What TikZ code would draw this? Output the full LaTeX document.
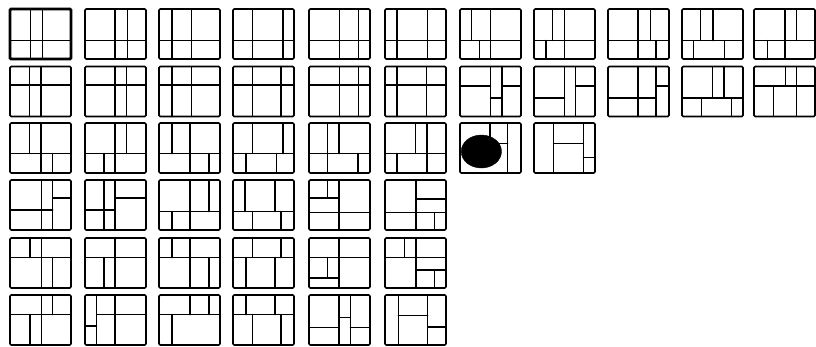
\documentclass[tikz,border=0pt]{standalone}
\usepackage{tikz}
\tikzset{
    wall/.style = {line width=1.5pt, line cap=round},
    planframe/.style = {line width=1.6pt, rounded corners=1.2pt},
    blob/.style = {fill=black, draw=black}
}
% one plan: left, top (picture pt), walls in unit coordinates
\newcommand{\plan}[3]{%
  \begin{scope}[shift={(#1pt,-#2pt)}, yshift=-50pt, x=61pt, y=50pt]
    #3
    \draw[planframe] (0,0) rectangle (1,1);
  \end{scope}}
\newcommand{\vwall}[3]{\draw[wall] (#1,#2) -- (#1,#3);}
\newcommand{\hwall}[3]{\draw[wall] (#2,#1) -- (#3,#1);}

\begin{document}
\begin{tikzpicture}[x=1pt, y=1pt]
    \useasboundingbox (0,0) rectangle (816,-346);

    % Row 1
    \plan{10}{9}{\draw[planframe, line width=2.8pt] (0,0) rectangle (1,1); \hwall{0.37}{0}{1}\vwall{0.34}{0}{1}\vwall{0.53}{0}{1}}
    \plan{85}{9}{\hwall{0.37}{0}{1}\vwall{0.49}{0}{1}\vwall{0.70}{0}{1}}
    \plan{159}{9}{\hwall{0.37}{0}{1}\vwall{0.21}{0}{1}\vwall{0.53}{0}{1}}
    \plan{233}{9}{\hwall{0.37}{0}{1}\vwall{0.32}{0}{1}\vwall{0.82}{0}{1}}
    \plan{309}{9}{\hwall{0.37}{0}{1}\vwall{0.50}{0}{1}\vwall{0.81}{0}{1}}
    \plan{385}{9}{\hwall{0.37}{0}{1}\vwall{0.20}{0}{1}\vwall{0.70}{0}{1}}
    \plan{460}{9}{\hwall{0.37}{0}{1}\vwall{0.50}{0}{1}\vwall{0.19}{0.37}{1}\vwall{0.32}{0}{0.37}}
    \plan{534}{9}{\hwall{0.37}{0}{1}\vwall{0.50}{0}{1}\vwall{0.30}{0.37}{1}\vwall{0.20}{0}{0.37}}
    \plan{608}{9}{\hwall{0.37}{0}{1}\vwall{0.49}{0}{1}\vwall{0.70}{0.37}{1}\vwall{0.79}{0}{0.37}}
    \plan{682}{9}{\hwall{0.37}{0}{1}\vwall{0.30}{0.37}{1}\vwall{0.51}{0.37}{1}\vwall{0.19}{0}{0.37}\vwall{0.70}{0}{0.37}}
    \plan{754}{9}{\hwall{0.37}{0}{1}\vwall{0.51}{0}{1}\vwall{0.70}{0.37}{1}\vwall{0.22}{0}{0.37}}

    % Row 2
    \plan{10}{66.5}{\hwall{0.63}{0}{1}\vwall{0.32}{0}{1}\vwall{0.51}{0}{1}}
    \plan{85}{66.5}{\hwall{0.63}{0}{1}\vwall{0.49}{0}{1}\vwall{0.68}{0}{1}}
    \plan{159}{66.5}{\hwall{0.63}{0}{1}\vwall{0.21}{0}{1}\vwall{0.53}{0}{1}}
    \plan{233}{66.5}{\hwall{0.63}{0}{1}\vwall{0.32}{0}{1}\vwall{0.79}{0}{1}}
    \plan{309}{66.5}{\hwall{0.63}{0}{1}\vwall{0.50}{0}{1}\vwall{0.81}{0}{1}}
    \plan{385}{66.5}{\hwall{0.63}{0}{1}\vwall{0.20}{0}{1}\vwall{0.68}{0}{1}}
    \plan{460}{66.5}{\vwall{0.50}{0}{1}\vwall{0.69}{0}{1}\hwall{0.61}{0}{0.50}\hwall{0.61}{0.69}{1}\hwall{0.37}{0.50}{0.69}}
    \plan{534}{66.5}{\vwall{0.50}{0}{1}\vwall{0.68}{0}{1}\hwall{0.37}{0}{0.50}\hwall{0.61}{0.68}{1}}
    \plan{608}{66.5}{\vwall{0.49}{0}{1}\vwall{0.79}{0}{1}\hwall{0.37}{0}{0.79}\hwall{0.61}{0.79}{1}}
    \plan{682}{66.5}{\hwall{0.37}{0}{1}\vwall{0.50}{0.37}{1}\vwall{0.69}{0.37}{1}\vwall{0.32}{0}{0.37}\vwall{0.81}{0}{0.37}}
    \plan{754}{66.5}{\hwall{0.61}{0}{1}\vwall{0.70}{0}{1}\vwall{0.52}{0.61}{1}\vwall{0.32}{0}{0.61}}

    % Row 3
    \plan{10}{123}{\hwall{0.39}{0}{1}\vwall{0.51}{0}{1}\vwall{0.32}{0.39}{1}\vwall{0.70}{0}{0.39}}
    \plan{85}{123}{\hwall{0.39}{0}{1}\vwall{0.49}{0}{1}\vwall{0.68}{0.39}{1}\vwall{0.31}{0}{0.39}}
    \plan{159}{123}{\hwall{0.39}{0}{1}\vwall{0.51}{0}{1}\vwall{0.21}{0.39}{1}\vwall{0.82}{0}{0.39}}
    \plan{233}{123}{\hwall{0.39}{0}{1}\vwall{0.32}{0.39}{1}\vwall{0.82}{0.39}{1}\vwall{0.21}{0}{0.39}\vwall{0.71}{0}{0.39}}
    \plan{309}{123}{\hwall{0.39}{0}{1}\vwall{0.30}{0}{1}\vwall{0.49}{0.39}{1}\vwall{0.80}{0}{0.39}}
    \plan{385}{123}{\hwall{0.39}{0}{1}\vwall{0.69}{0}{1}\vwall{0.50}{0.39}{1}\vwall{0.20}{0}{0.39}}
    \plan{460}{123}{\vwall{0.78}{0}{1}\vwall{0.49}{0.59}{1}\hwall{0.59}{0.49}{0.78}\fill[blob] (0.35,0.43) ellipse [x radius=0.33, y radius=0.33];}
    \plan{534}{123}{\vwall{0.32}{0}{1}\vwall{0.81}{0}{1}\hwall{0.59}{0.32}{0.81}\hwall{0.31}{0.81}{1}}

    % Row 4
    \plan{10}{180}{\vwall{0.52}{0}{1}\vwall{0.70}{0}{1}\hwall{0.40}{0}{0.70}\hwall{0.64}{0.70}{1}}
    \plan{85}{180}{\vwall{0.31}{0}{1}\vwall{0.49}{0}{1}\hwall{0.40}{0}{0.49}\hwall{0.64}{0.49}{1}}
    \plan{159}{180}{\hwall{0.37}{0}{1}\vwall{0.51}{0}{1}\vwall{0.82}{0.37}{1}\vwall{0.21}{0}{0.37}}
    \plan{233}{180}{\hwall{0.37}{0}{1}\vwall{0.20}{0.37}{1}\vwall{0.69}{0.37}{1}\vwall{0.32}{0}{0.37}\vwall{0.79}{0}{0.37}}
    \plan{309}{180}{\vwall{0.49}{0}{1}\hwall{0.35}{0}{1}\hwall{0.64}{0}{0.49}\vwall{0.30}{0.64}{1}}
    \plan{385}{180}{\vwall{0.51}{0}{1}\hwall{0.62}{0.51}{1}\hwall{0.35}{0}{1}\vwall{0.81}{0}{0.35}}

    % Row 5
    \plan{10}{238}{\hwall{0.61}{0}{1}\vwall{0.52}{0}{1}\vwall{0.33}{0.61}{1}\vwall{0.70}{0}{0.61}}
    \plan{85}{238}{\hwall{0.61}{0}{1}\vwall{0.49}{0}{1}\vwall{0.31}{0}{0.61}}
    \plan{159}{238}{\hwall{0.61}{0}{1}\vwall{0.51}{0}{1}\vwall{0.21}{0.61}{1}\vwall{0.82}{0}{0.61}}
    \plan{233}{238}{\hwall{0.61}{0}{1}\vwall{0.32}{0.61}{1}\vwall{0.79}{0.61}{1}\vwall{0.21}{0}{0.61}\vwall{0.69}{0}{0.61}}
    \plan{309}{238}{\hwall{0.61}{0}{1}\vwall{0.49}{0}{1}\vwall{0.30}{0.20}{0.61}\hwall{0.20}{0}{0.49}}
    \plan{385}{238}{\hwall{0.61}{0}{1}\vwall{0.51}{0}{1}\vwall{0.32}{0.61}{1}\hwall{0.36}{0.51}{1}\vwall{0.81}{0}{0.36}}

    % Row 6
    \plan{10}{295}{\hwall{0.61}{0}{1}\vwall{0.52}{0}{1}\vwall{0.70}{0.61}{1}\vwall{0.33}{0}{0.61}}
    \plan{85}{295}{\vwall{0.19}{0}{1}\vwall{0.49}{0}{1}\hwall{0.61}{0.19}{1}\hwall{0.38}{0}{0.19}}
    \plan{159}{295}{\hwall{0.61}{0}{1}\vwall{0.51}{0.61}{1}\vwall{0.82}{0.61}{1}\vwall{0.21}{0}{0.61}}
    \plan{233}{295}{\hwall{0.61}{0}{1}\vwall{0.21}{0.61}{1}\vwall{0.69}{0.61}{1}\vwall{0.32}{0}{0.61}\vwall{0.79}{0}{0.61}}
    \plan{309}{295}{\vwall{0.49}{0}{1}\vwall{0.68}{0}{1}\hwall{0.35}{0}{0.49}\hwall{0.55}{0.49}{0.68}\hwall{0.35}{0.68}{1}}
    \plan{385}{295}{\vwall{0.22}{0}{1}\vwall{0.70}{0}{1}\hwall{0.59}{0.22}{0.70}\hwall{0.36}{0.70}{1}}
\end{tikzpicture}
\end{document}
